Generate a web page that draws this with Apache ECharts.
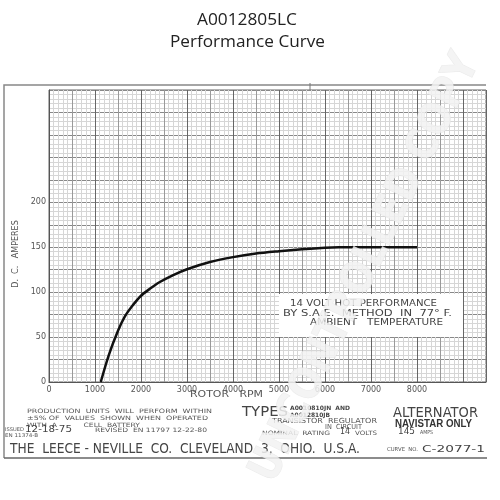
<!DOCTYPE html>
<html><head><meta charset="utf-8">
<script src="https://cdn.jsdelivr.net/npm/echarts@6/dist/echarts.min.js"></script>
<style>html,body{margin:0;padding:0;background:#fff}#c{width:500px;height:500px}</style>
</head><body><div id="c"></div>
<script>
const titleLines = ['A0012805LC', 'Performance Curve'];
const rpm =  [1125, 1300, 1500, 1650, 1800, 2000, 2200, 2400, 2700, 3000, 3500, 4000, 4500, 5000, 5500, 6000, 6300, 8000];
const amps = [0,    30,   57,   73,   84,   96,   104,  111,  119,  125.5, 133.5, 139, 143, 145.6, 147.8, 149.5, 150, 150];
const xLabelMax = 8000;
const yLabelMax = 200;
const noteLines = ['14 VOLT HOT PERFORMANCE', 'BY S.A.E.  METHOD  IN  77° F.', 'AMBIENT   TEMPERATURE'];

const chart = echarts.init(document.getElementById('c'));
const lab = {fontFamily: 'DejaVu Sans', fontSize: 8, color: '#555'};
const ctx = document.createElement('canvas').getContext('2d');
const g = [];
// text fitted to a horizontal span [x1, x2] centred vertically at y
function fit(x1, x2, y, s, size, opts) {
  opts = opts || {};
  const fam = opts.fontFamily || 'DejaVu Sans';
  const wt = opts.fontWeight || 'normal';
  ctx.font = wt + ' ' + size + 'px "' + fam + '"';
  const w = ctx.measureText(s).width;
  g.push({type: 'text', x: x1, y: y, z: 10, scaleX: (x2 - x1) / w, originX: 0,
    style: Object.assign({text: s, fontFamily: fam, fontSize: size, fontWeight: wt, fill: '#444', textVerticalAlign: 'middle'}, opts)});
}
// frame
g.push({type: 'polyline', z: 5, shape: {points: [[4, 458], [4, 85], [486, 85]]}, style: {stroke: '#888', lineWidth: 1.5, fill: null}});
g.push({type: 'line', z: 5, shape: {x1: 4, y1: 458, x2: 487, y2: 458}, style: {stroke: '#666', lineWidth: 1.5}});
g.push({type: 'line', z: 5, shape: {x1: 310, y1: 83, x2: 310, y2: 90}, style: {stroke: '#777', lineWidth: 1}});
// titles
fit(197, 297, 20, titleLines[0], 16, {fontFamily: 'Open Sans', fill: '#222'});
fit(170, 325, 42, titleLines[1], 16, {fontFamily: 'Open Sans', fill: '#222'});
// axis names
g.push({type: 'text', x: 16, y: 254, rotation: Math.PI / 2, z: 10,
  style: {text: 'D.  C.   AMPERES', fontFamily: 'DejaVu Sans', fontSize: 8, fill: '#555', textAlign: 'center', textVerticalAlign: 'middle'}});
fit(190, 263, 395, 'ROTOR   RPM', 8, {fill: '#555'});
// note box
g.push({type: 'rect', z: 8, shape: {x: 279, y: 294, width: 184, height: 43}, style: {fill: '#fff'}});
fit(290, 437, 304, noteLines[0], 8, {fill: '#444'});
fit(283, 452, 313.5, noteLines[1], 8, {fill: '#444'});
fit(310, 443, 323, noteLines[2], 8, {fill: '#444'});
// footer
fit(27, 212, 411, 'PRODUCTION  UNITS  WILL  PERFORM  WITHIN', 6, {fill: '#555'});
fit(27, 208, 418, '±5% OF  VALUES  SHOWN  WHEN  OPERATED', 6, {fill: '#555'});
fit(27, 140, 425, 'WITH  A           CELL  BATTERY', 6, {fill: '#555'});
fit(5, 24, 430, 'ISSUED', 5, {fill: '#555'});
fit(25, 72, 430, '12-18-75', 8, {fill: '#444'});
fit(5, 38, 435.5, 'EN 11374-B', 5, {fill: '#555'});
fit(95, 207, 430, 'REVISED  EN 11797 12-22-80', 6, {fill: '#555'});
fit(242, 288, 412, 'TYPES', 14, {fill: '#444'});
fit(290, 350, 408, 'A0010810JN  AND', 6, {fill: '#444', fontWeight: 'bold'});
fit(290, 330, 415, 'A0012810JB', 6, {fill: '#444', fontWeight: 'bold'});
fit(272, 377, 421, 'TRANSISTOR  REGULATOR', 7, {fill: '#555'});
fit(325, 362, 427.5, 'IN  CIRCUIT', 7, {fill: '#555'});
fit(393, 478, 413, 'ALTERNATOR', 14, {fill: '#444'});
fit(395, 472, 424, 'NAVISTAR ONLY', 10, {fill: '#333', fontWeight: 'bold', fontFamily: 'Liberation Sans'});
fit(262, 330, 433, 'NOMINAL  RATING', 6, {fill: '#555'});
fit(340, 350, 432, '14', 9, {fill: '#444'});
fit(355, 377, 433, 'VOLTS', 6, {fill: '#555'});
fit(398, 415, 432, '145', 9, {fill: '#444'});
fit(420, 433, 433, 'AMPS', 5.5, {fill: '#555'});
fit(10, 360, 449, 'THE  LEECE - NEVILLE  CO.  CLEVELAND  3,  OHIO.  U.S.A.', 14, {fill: '#444'});
fit(387, 418, 450, 'CURVE  NO.', 5.5, {fill: '#555'});
fit(422, 485, 450, 'C-2077-1', 8.5, {fill: '#444'});
// watermark
ctx.font = 'bold 44px "DejaVu Sans"';
const wmText = 'UNCONTROLLED COPY';
const wmW = ctx.measureText(wmText).width;
g.push({type: 'text', x: 366, y: 268, rotation: 64 * Math.PI / 180, scaleX: 470 / wmW, z: 20,
  style: {text: wmText, fontFamily: 'DejaVu Sans', fontWeight: 'bold', fontSize: 44,
    fill: 'rgba(242,242,242,0.85)', stroke: 'rgba(215,215,215,0.5)', lineWidth: 1, textAlign: 'center', textVerticalAlign: 'middle'}});

chart.setOption({
  animation: false,
  backgroundColor: '#fff',
  grid: {left: 49, right: 14, top: 90, bottom: 118, show: true, borderColor: '#666', borderWidth: 1},
  xAxis: [{
    type: 'value', min: 0, max: 9500, interval: 500,
    axisLine: {show: true, lineStyle: {color: '#555'}}, axisTick: {show: false},
    axisLabel: Object.assign({margin: 4, formatter: v => (v % 1000 === 0 && v <= xLabelMax) ? String(v) : ''}, lab),
    splitLine: {show: true, lineStyle: {color: '#9a9a9a', width: 1}},
    minorTick: {show: false, splitNumber: 5},
    minorSplitLine: {show: true, lineStyle: {color: '#d6d6d6', width: 1}}
  }, {
    type: 'value', min: 0, max: 9500, interval: 1000, position: 'bottom',
    axisLine: {show: false}, axisTick: {show: false}, axisLabel: {show: false},
    splitLine: {show: true, lineStyle: {color: '#666', width: 1}}
  }],
  yAxis: [{
    type: 'value', min: 0, max: 325, interval: 25,
    axisLine: {show: true, lineStyle: {color: '#555'}}, axisTick: {show: false},
    axisLabel: Object.assign({margin: 3, formatter: v => (v % 50 === 0 && v <= yLabelMax) ? String(v) : ''}, lab),
    splitLine: {show: true, lineStyle: {color: '#888', width: 1}},
    minorTick: {show: false, splitNumber: 5},
    minorSplitLine: {show: true, lineStyle: {color: '#d6d6d6', width: 1}}
  }],
  graphic: g,
  series: [{
    type: 'line', xAxisIndex: 0, yAxisIndex: 0, smooth: 0.3, showSymbol: false,
    lineStyle: {color: '#111', width: 2.5},
    data: rpm.map((r, i) => [r, amps[i]]), z: 5
  }]
});
</script></body></html>
